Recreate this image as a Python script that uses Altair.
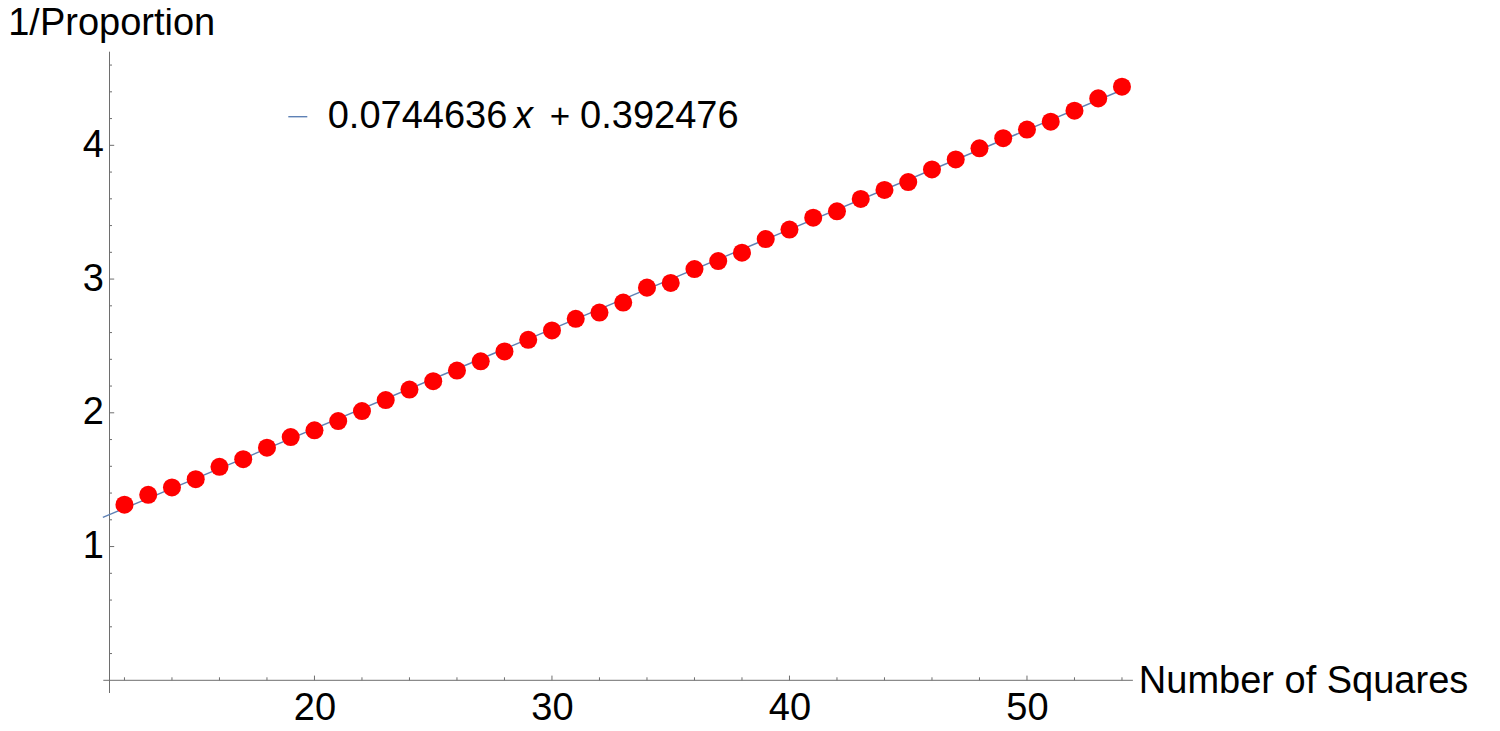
import altair as alt
import pandas as pd

# ---- data ----
squares = list(range(12, 55))
inv_prop = [1.313, 1.387, 1.442, 1.504, 1.596, 1.653, 1.739, 1.819, 1.869, 1.938,
            2.013, 2.095, 2.174, 2.236, 2.316, 2.385, 2.459, 2.546, 2.616, 2.703,
            2.750, 2.824, 2.936, 2.971, 3.075, 3.135, 3.197, 3.299, 3.370, 3.459,
            3.507, 3.599, 3.666, 3.725, 3.820, 3.894, 3.978, 4.053, 4.118, 4.177,
            4.259, 4.351, 4.438]
fit_slope = [0.0744636]
fit_intercept = [0.392476]
fit_x_range = [11.09, 54.05]

x_major = [20, 30, 40, 50]
x_minor = [12, 14, 16, 18, 22, 24, 26, 28, 32, 34, 36, 38, 42, 44, 46, 48, 52, 54]
y_major = [1, 2, 3, 4]
y_minor = [0.2, 0.4, 0.6, 0.8, 1.2, 1.4, 1.6, 1.8, 2.2, 2.4, 2.6, 2.8,
           3.2, 3.4, 3.6, 3.8, 4.2, 4.4, 4.6]
x_title = ["Number of Squares"]
y_title = ["1/Proportion"]

# ---- layout ----
W, H = 1023.4, 628.6
FONT = "Liberation Sans"
AXIS_COLOR = "#6e6e6e"
LINE_COLOR = "#5E81B5"

xs = alt.Scale(domain=[11.37, 54.46], nice=False, zero=False)
ys = alt.Scale(domain=[0, 4.70], nice=False, zero=False)

x_axis = alt.Axis(
    values=x_major, ticks=False, tickSize=0, domain=False, grid=False, title=None,
    labelFont=FONT, labelFontSize=38, labelColor="black", labelPadding=39,
    labelBaseline="alphabetic", labelFlush=False, labelOverlap=False)
y_axis = alt.Axis(
    values=y_major, ticks=False, tickSize=0, domain=False, grid=False, title=None,
    labelFont=FONT, labelFontSize=38, labelColor="black", labelPadding=6,
    labelBaseline="middle", labelFlush=False, labelOverlap=False)

pts_df = pd.DataFrame({"n": squares, "v": inv_prop})

points = alt.Chart(pts_df).mark_circle(size=325, color="#FF0000", opacity=1).encode(
    x=alt.X("n:Q", scale=xs, axis=x_axis),
    y=alt.Y("v:Q", scale=ys, axis=y_axis),
)

fit_df = pd.DataFrame({"n": fit_x_range})
fit = alt.Chart(fit_df).mark_line(color=LINE_COLOR, strokeWidth=1.4).transform_calculate(
    v=f"{fit_slope[0]} * datum.n + {fit_intercept[0]}"
).encode(
    x=alt.X("n:Q", scale=xs, axis=x_axis),
    y=alt.Y("v:Q", scale=ys, axis=y_axis),
)

# axis lines (Mathematica style, slightly overshooting the origin)
x_axis_line = alt.Chart(pd.DataFrame({"a": [0]})).mark_rule(color=AXIS_COLOR, strokeWidth=1).encode(
    x=alt.value(-6.2), x2=alt.value(W), y=alt.value(H))
y_axis_line = alt.Chart(pd.DataFrame({"a": [0]})).mark_rule(color=AXIS_COLOR, strokeWidth=1).encode(
    x=alt.value(0), y=alt.value(0), y2=alt.value(H + 12.7))

# inward ticks
def xticks(vals, length):
    return alt.Chart(pd.DataFrame({"n": vals})).mark_rule(color=AXIS_COLOR, strokeWidth=1).encode(
        x=alt.X("n:Q", scale=xs, axis=x_axis), y=alt.value(H), y2=alt.value(H - length))

def yticks(vals, length):
    return alt.Chart(pd.DataFrame({"v": vals})).mark_rule(color=AXIS_COLOR, strokeWidth=1).encode(
        y=alt.Y("v:Q", scale=ys, axis=y_axis), x=alt.value(0), x2=alt.value(length))

# titles
xt = alt.Chart(pd.DataFrame({"t": x_title})).mark_text(
    font=FONT, fontSize=38, color="black", align="left", baseline="alphabetic").encode(
    text="t:N", x=alt.value(1029.3), y=alt.value(H + 12.7))
yt = alt.Chart(pd.DataFrame({"t": y_title})).mark_text(
    font=FONT, fontSize=38, color="black", align="left", baseline="alphabetic").encode(
    text="t:N", x=alt.value(-101.3), y=alt.value(-16.7))

# legend
leg_line = alt.Chart(pd.DataFrame({"a": [0]})).mark_rule(color=LINE_COLOR, strokeWidth=1.4).encode(
    x=alt.value(178.8), x2=alt.value(197.8), y=alt.value(65))
leg_a = alt.Chart(pd.DataFrame({"t": [f"{fit_slope[0]}"]})).mark_text(
    font=FONT, fontSize=38, color="black", align="left", baseline="alphabetic").encode(
    text="t:N", x=alt.value(218.2), y=alt.value(76))
leg_x = alt.Chart(pd.DataFrame({"t": ["x"]})).mark_text(
    font=FONT, fontSize=38, fontStyle="italic", color="black", align="left", baseline="alphabetic").encode(
    text="t:N", x=alt.value(404.5), y=alt.value(76))
leg_plus = alt.Chart(pd.DataFrame({"t": ["+"]})).mark_text(
    font=FONT, fontSize=35, color="black", align="center", baseline="alphabetic").encode(
    text="t:N", x=alt.value(450.5), y=alt.value(76))
leg_b = alt.Chart(pd.DataFrame({"t": [f"{fit_intercept[0]}"]})).mark_text(
    font=FONT, fontSize=38, color="black", align="left", baseline="alphabetic").encode(
    text="t:N", x=alt.value(470.6), y=alt.value(76))

chart = alt.layer(
    x_axis_line, y_axis_line,
    xticks(x_major, 4.7), xticks(x_minor, 3),
    yticks(y_major, 4.7), yticks(y_minor, 2.5),
    fit, points,
    xt, yt, leg_line, leg_a, leg_x, leg_plus, leg_b,
).properties(
    width=W, height=H,
    background="white",
    autosize=alt.AutoSizeParams(type="none"),
    padding={"left": 101.5, "top": 43.7, "right": 359.1, "bottom": 42.7},
).configure_view(stroke=None, strokeWidth=0)

chart.save("out.html", embed_options={"renderer": "svg", "actions": False})
